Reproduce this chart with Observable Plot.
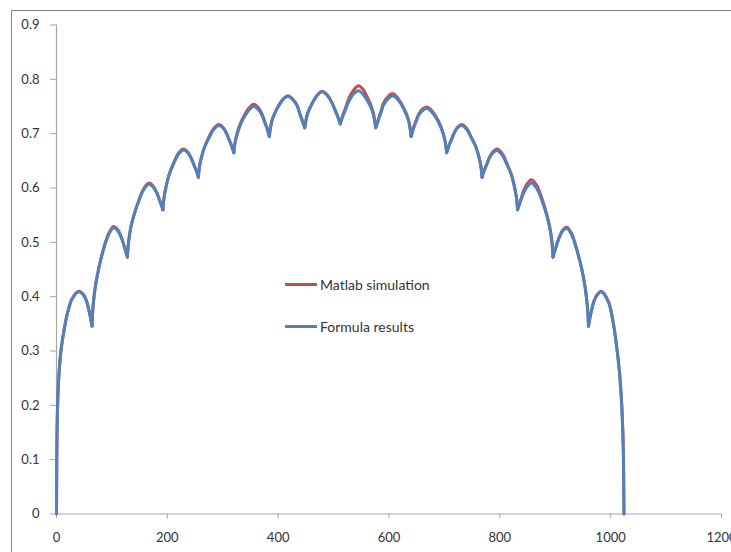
<!DOCTYPE html>
<html>
<head>
<meta charset="utf-8">
<script src="https://cdn.jsdelivr.net/npm/d3@7"></script>
<script src="https://cdn.jsdelivr.net/npm/@observablehq/plot@0.6"></script>
<style>
  html, body { margin: 0; padding: 0; background: #fff; }
  #wrap { position: relative; width: 731px; height: 552px; overflow: hidden; background: #fff; }
  #frame { position: absolute; left: 11px; top: 10px; width: 740px; height: 560px; border: 1px solid #868686; box-sizing: border-box; pointer-events: none; }
  #legend { position: absolute; left: 285px; top: 274px; font-family: Lato, "Open Sans", sans-serif; font-size: 14px; color: #333; }
  .item { display: flex; align-items: center; height: 20px; }
  .item + .item { margin-top: 22px; }
  .swatch { width: 32px; height: 3px; margin-right: 3px; }
</style>
</head>
<body>
<div id="wrap">
  <div id="chart"></div>
  <div id="frame"></div>
  <div id="legend"></div>
</div>
<script>
// Series names and colours
const seriesNames = ["Matlab simulation", "Formula results"];
const seriesColors = ["#C0504D", "#4F81BD"];

// Tick labels
const xTicks = [0, 200, 400, 600, 800, 1000, 1200];
const yTicks = [0, 0.1, 0.2, 0.3, 0.4, 0.5, 0.6, 0.7, 0.8, 0.9];

// Cusp positions (arc boundaries)
const cuspX = [0, 64, 128, 192, 256, 320, 384, 448, 512, 576, 640, 704, 768, 832, 896, 960, 1024];

// Sample positions along x
const xPoints = [
  0, 0.5, 1, 2, 4, 8, 14, 20, 28, 40, 48, 54, 58, 61, 64,
  66, 70, 76, 85, 94, 103, 110, 116, 120, 124, 128,
  130, 134, 140, 149, 158, 167, 174, 180, 184, 188, 192,
  194, 198, 203, 212, 220, 229, 237, 243, 247, 252, 256,
  258, 262, 267, 276, 284, 293, 301, 307, 311, 316, 320,
  322, 326, 331, 339, 348, 356, 364, 371, 375, 380, 384,
  386, 389, 394, 402, 410, 418, 426, 434, 438, 443, 448,
  450, 453, 458, 465, 472, 479, 488, 496, 501, 507, 512,
  517, 523, 528, 536, 545, 552, 559, 566, 571, 574, 576,
  581, 586, 590, 598, 606, 614, 622, 630, 635, 638, 640,
  644, 649, 653, 660, 668, 676, 685, 693, 698, 702, 704,
  708, 713, 717, 723, 731, 740, 748, 757, 762, 766, 768,
  772, 777, 781, 787, 795, 804, 812, 821, 826, 830, 832,
  836, 840, 844, 850, 857, 866, 875, 884, 890, 894, 896,
  900, 904, 908, 914, 921, 930, 939, 948, 954, 958, 960,
  963, 966, 970, 976, 983, 996, 1004, 1010, 1016, 1020, 1022, 1023, 1024
];

// Formula results (blue)
const formulaY = [
  0, 0.10, 0.15, 0.20, 0.25, 0.30, 0.34, 0.37, 0.395, 0.409, 0.404, 0.392, 0.377, 0.363, 0.346,
  0.382, 0.418, 0.451, 0.487, 0.514, 0.527, 0.522, 0.511, 0.500, 0.4865, 0.473,
  0.500, 0.527, 0.551, 0.578, 0.598, 0.607, 0.602, 0.593, 0.5835, 0.572, 0.560,
  0.582, 0.604, 0.624, 0.646, 0.662, 0.670, 0.665, 0.655, 0.645, 0.6325, 0.620,
  0.639, 0.658, 0.675, 0.694, 0.708, 0.715, 0.710, 0.700, 0.690, 0.6775, 0.665,
  0.682, 0.699, 0.714, 0.731, 0.744, 0.750, 0.7445, 0.7335, 0.7225, 0.709, 0.695,
  0.710, 0.725, 0.738, 0.753, 0.764, 0.769, 0.763, 0.752, 0.740, 0.7255, 0.711,
  0.724, 0.737, 0.749, 0.762, 0.772, 0.777, 0.771, 0.759, 0.7475, 0.733, 0.718,
  0.733, 0.748, 0.760, 0.773, 0.779, 0.774, 0.764, 0.751, 0.738, 0.724, 0.711,
  0.7255, 0.740, 0.752, 0.764, 0.770, 0.765, 0.754, 0.738, 0.725, 0.710, 0.695,
  0.709, 0.7225, 0.733, 0.742, 0.747, 0.741, 0.729, 0.713, 0.699, 0.682, 0.665,
  0.6775, 0.690, 0.700, 0.710, 0.715, 0.708, 0.694, 0.675, 0.658, 0.639, 0.620,
  0.6325, 0.645, 0.655, 0.664, 0.669, 0.661, 0.645, 0.624, 0.604, 0.582, 0.560,
  0.572, 0.5835, 0.593, 0.603, 0.609, 0.600, 0.580, 0.552, 0.527, 0.500, 0.473,
  0.4865, 0.500, 0.511, 0.522, 0.526, 0.513, 0.486, 0.450, 0.417, 0.382, 0.346,
  0.363, 0.377, 0.392, 0.404, 0.409, 0.390, 0.355, 0.315, 0.26, 0.20, 0.15, 0.11, 0
];

// Matlab simulation (red)
const matlabY = [
  0, 0.10, 0.15, 0.20, 0.25, 0.30, 0.341, 0.371, 0.396, 0.410, 0.405, 0.393, 0.377, 0.363, 0.346,
  0.382, 0.418, 0.451, 0.489, 0.516, 0.529, 0.524, 0.512, 0.500, 0.4865, 0.473,
  0.500, 0.527, 0.551, 0.578, 0.600, 0.609, 0.604, 0.593, 0.5835, 0.572, 0.560,
  0.582, 0.604, 0.624, 0.648, 0.664, 0.672, 0.666, 0.655, 0.645, 0.6325, 0.620,
  0.639, 0.658, 0.675, 0.696, 0.710, 0.717, 0.711, 0.700, 0.690, 0.6775, 0.665,
  0.683, 0.701, 0.717, 0.734, 0.748, 0.754, 0.748, 0.736, 0.7245, 0.710, 0.695,
  0.710, 0.725, 0.738, 0.754, 0.765, 0.770, 0.764, 0.752, 0.740, 0.7255, 0.711,
  0.724, 0.737, 0.749, 0.763, 0.773, 0.778, 0.772, 0.759, 0.7475, 0.733, 0.718,
  0.735, 0.752, 0.766, 0.780, 0.788, 0.783, 0.771, 0.756, 0.741, 0.726, 0.711,
  0.727, 0.743, 0.756, 0.768, 0.774, 0.768, 0.756, 0.740, 0.726, 0.711, 0.695,
  0.710, 0.724, 0.735, 0.745, 0.749, 0.744, 0.731, 0.715, 0.700, 0.683, 0.665,
  0.6775, 0.690, 0.700, 0.711, 0.717, 0.710, 0.694, 0.675, 0.658, 0.639, 0.620,
  0.6325, 0.645, 0.656, 0.666, 0.672, 0.664, 0.647, 0.624, 0.604, 0.582, 0.560,
  0.573, 0.586, 0.598, 0.609, 0.615, 0.606, 0.584, 0.554, 0.528, 0.501, 0.473,
  0.4865, 0.500, 0.511, 0.523, 0.528, 0.515, 0.486, 0.450, 0.417, 0.382, 0.346,
  0.363, 0.377, 0.392, 0.404, 0.410, 0.391, 0.356, 0.315, 0.26, 0.20, 0.15, 0.11, 0
];

// Build rows: each arc (between two cusps) is its own smooth segment
function buildRows(ys, name) {
  const rows = [];
  xPoints.forEach((x, i) => {
    for (let k = 0; k < cuspX.length - 1; k++) {
      if (x >= cuspX[k] && x <= cuspX[k + 1]) rows.push({x, y: ys[i], arc: name + k, series: name});
    }
  });
  return rows;
}
const matlabRows = buildRows(matlabY, seriesNames[0]);
const formulaRows = buildRows(formulaY, seriesNames[1]);

const axisGray = "#a6a6a6";
const textColor = "#333333";

const chart = Plot.plot({
  width: 731,
  height: 552,
  marginLeft: 56,
  marginRight: 10,
  marginTop: 24.5,
  marginBottom: 38.5,
  style: {fontFamily: "Lato, 'Open Sans', sans-serif", fontSize: "13px", background: "transparent", overflow: "visible"},
  x: {domain: [0, 1200]},
  y: {domain: [0, 0.9]},
  marks: [
    Plot.axisX({ticks: xTicks, tickSize: 5, tickPadding: 14, tickFormat: d => String(d), stroke: axisGray, fill: textColor, label: null}),
    Plot.axisY({ticks: yTicks, tickSize: 6, tickPadding: 11, tickFormat: d => String(d), stroke: axisGray, fill: textColor, label: null}),
    Plot.ruleY([0], {stroke: axisGray, strokeWidth: 1.2}),
    Plot.ruleX([0], {stroke: axisGray, strokeWidth: 1.2}),
    Plot.line(matlabRows, {x: "x", y: "y", z: "arc", stroke: seriesColors[0], strokeWidth: 3, curve: "catmull-rom"}),
    Plot.line(formulaRows, {x: "x", y: "y", z: "arc", stroke: seriesColors[1], strokeWidth: 3, curve: "catmull-rom"})
  ]
});
document.getElementById("chart").appendChild(chart);

// Legend (inside the plot area)
const legend = document.getElementById("legend");
seriesNames.forEach((name, i) => {
  const item = document.createElement("div");
  item.className = "item";
  const sw = document.createElement("div");
  sw.className = "swatch";
  sw.style.background = seriesColors[i];
  const label = document.createElement("span");
  label.textContent = name;
  item.appendChild(sw);
  item.appendChild(label);
  legend.appendChild(item);
});
</script>
</body>
</html>
